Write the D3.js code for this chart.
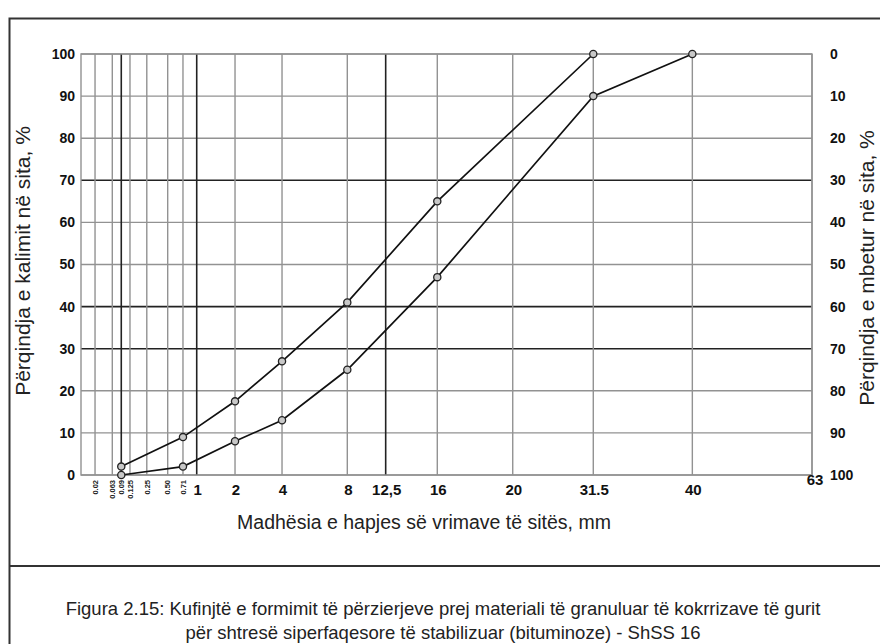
<!DOCTYPE html>
<html>
<head>
<meta charset="utf-8">
<script src="https://cdn.jsdelivr.net/npm/d3@7"></script>
<style>
  body { margin: 0; background: #fff; }
  text { font-family: "Liberation Sans", Arial, sans-serif; }
</style>
</head>
<body>
<div id="canvas"></div>
<script>
// sieve openings (mm) that get a vertical grid line
var gridSizes = [0.02, 0.063, 0.09, 0.125, 0.25, 0.5, 0.71, 1, 2, 4, 8, 12.5, 16, 20, 31.5, 40, 63];
var smallLabels = ["0.02", "0.063", "0.09", "0.125", "0.25", "0.50", "0.71"];
var bigLabels = ["1", "2", "4", "8", "12,5", "16", "20", "31.5", "40", "63"];
var darkSizes = [0.09, 1, 12.5];
var darkPercents = [30, 40, 70];
var yTicks = [0, 10, 20, 30, 40, 50, 60, 70, 80, 90, 100];

// upper and lower limit curves (passing %)
var upperSizes = [0.09, 0.71, 2, 4, 8, 16, 31.5];
var upperPass = [2, 9, 17.5, 27, 41, 65, 100];
var lowerSizes = [0.09, 0.71, 2, 4, 8, 16, 31.5, 40];
var lowerPass = [0, 2, 8, 13, 25, 47, 90, 100];

// the chart's x axis is hand drawn, so keep where each size sits as a fraction of the width
var axisSizes = [0, 0.02, 0.063, 0.09, 0.125, 0.25, 0.5, 0.71, 1, 2, 4, 8, 12.5, 16, 20, 31.5, 40, 63];
var axisFrac = [0, 0.0192, 0.0428, 0.0551, 0.067, 0.09, 0.1186, 0.1395, 0.1583, 0.2107, 0.275, 0.3643, 0.4168, 0.4874, 0.5906, 0.7008, 0.8363, 1];

var W = 880, H = 644;
var plotL = 81, plotR = 812, plotT = 54, plotB = 475;

var svg = d3.select("#canvas").append("svg")
    .attr("width", W)
    .attr("height", H);

// outer frame + caption separator
svg.append("rect")
    .attr("x", 9.5).attr("y", 18.5)
    .attr("width", W).attr("height", H)
    .attr("fill", "none").attr("stroke", "#333").attr("stroke-width", 2);
svg.append("line")
    .attr("x1", 9.5).attr("x2", W).attr("y1", 566).attr("y2", 566)
    .attr("stroke", "#333").attr("stroke-width", 2);

var x = d3.scaleLinear()
    .domain(axisSizes)
    .range(axisFrac.map(function (f) { return plotL + f * (plotR - plotL); }));
var y = d3.scaleLinear().domain([0, 100]).range([plotB, plotT]);

// grid
svg.append("g").selectAll("line").data(yTicks).enter().append("line")
    .attr("x1", plotL).attr("x2", plotR)
    .attr("y1", function (d) { return y(d); })
    .attr("y2", function (d) { return y(d); })
    .attr("stroke", function (d) { return darkPercents.indexOf(d) >= 0 ? "#222" : "#929292"; })
    .attr("stroke-width", function (d) { return darkPercents.indexOf(d) >= 0 ? 1.6 : 1.4; });

svg.append("g").selectAll("line").data(gridSizes).enter().append("line")
    .attr("x1", function (d) { return x(d); })
    .attr("x2", function (d) { return x(d); })
    .attr("y1", plotT).attr("y2", plotB)
    .attr("stroke", function (d) { return darkSizes.indexOf(d) >= 0 ? "#222" : "#929292"; })
    .attr("stroke-width", function (d) { return darkSizes.indexOf(d) >= 0 ? 1.6 : 1.4; });

svg.append("rect")
    .attr("x", plotL).attr("y", plotT)
    .attr("width", plotR - plotL).attr("height", plotB - plotT)
    .attr("fill", "none").attr("stroke", "#929292").attr("stroke-width", 1.4);

// y axes
var yLeft = svg.append("g")
    .attr("transform", "translate(" + (plotL - 6) + ",0)")
    .call(d3.axisLeft(y).tickValues(yTicks).tickSize(0).tickPadding(0));
yLeft.select(".domain").remove();

var yRight = svg.append("g")
    .attr("transform", "translate(" + (plotR + 18) + ",0)")
    .call(d3.axisRight(y).tickValues(yTicks).tickSize(0).tickPadding(0)
        .tickFormat(function (d) { return 100 - d; }));
yRight.select(".domain").remove();

svg.selectAll(".tick text")
    .attr("font-family", "'Liberation Sans', Arial, sans-serif")
    .attr("font-size", 14).attr("font-weight", "bold").attr("fill", "#111");

// x labels
svg.append("g").selectAll("text").data(smallLabels).enter().append("text")
    .attr("transform", function (d, i) {
        return "translate(" + (x(gridSizes[i]) + 2.8) + ",480) rotate(-90)";
    })
    .attr("text-anchor", "end")
    .attr("font-size", 7.5).attr("font-weight", "bold").attr("fill", "#222")
    .text(function (d) { return d; });

svg.append("g").selectAll("text").data(bigLabels).enter().append("text")
    .attr("x", function (d, i) { return x(gridSizes[i + 7]) + (d === "63" ? 3 : 1); })
    .attr("y", function (d) { return d === "63" ? 485 : 495; })
    .attr("text-anchor", "middle")
    .attr("font-size", 15).attr("font-weight", "bold").attr("fill", "#111")
    .text(function (d) { return d; });

// limit curves
var line = d3.line()
    .x(function (d) { return x(d[0]); })
    .y(function (d) { return y(d[1]); });

[[upperSizes, upperPass], [lowerSizes, lowerPass]].forEach(function (s) {
    var pts = d3.zip(s[0], s[1]);
    svg.append("path").datum(pts)
        .attr("d", line)
        .attr("fill", "none").attr("stroke", "#111").attr("stroke-width", 1.7);
    svg.append("g").selectAll("circle").data(pts).enter().append("circle")
        .attr("cx", function (d) { return x(d[0]); })
        .attr("cy", function (d) { return y(d[1]); })
        .attr("r", 3.6)
        .attr("fill", "#c8c8c8").attr("stroke", "#222").attr("stroke-width", 1.3);
});

// titles
svg.append("text")
    .attr("transform", "translate(30,261) rotate(-90)")
    .attr("text-anchor", "middle")
    .attr("font-size", 21).attr("fill", "#222")
    .text("Përqindja e kalimit në sita, %");

svg.append("text")
    .attr("transform", "translate(874,268) rotate(-90)")
    .attr("text-anchor", "middle")
    .attr("font-size", 21).attr("fill", "#222")
    .text("Përqindja e mbetur në sita, %");

svg.append("text")
    .attr("x", 424).attr("y", 529)
    .attr("text-anchor", "middle")
    .attr("font-size", 19.5).attr("fill", "#222")
    .text("Madhësia e hapjes së vrimave të sitës, mm");

svg.append("text")
    .attr("x", 443).attr("y", 615)
    .attr("text-anchor", "middle")
    .attr("font-size", 18.5).attr("fill", "#222")
    .text("Figura 2.15: Kufinjtë e formimit të përzierjeve prej materiali të granuluar të kokrrizave të gurit");

svg.append("text")
    .attr("x", 443).attr("y", 639)
    .attr("text-anchor", "middle")
    .attr("font-size", 18.5).attr("fill", "#222")
    .text("për shtresë siperfaqesore të stabilizuar (bituminoze) - ShSS 16");
</script>
</body>
</html>
